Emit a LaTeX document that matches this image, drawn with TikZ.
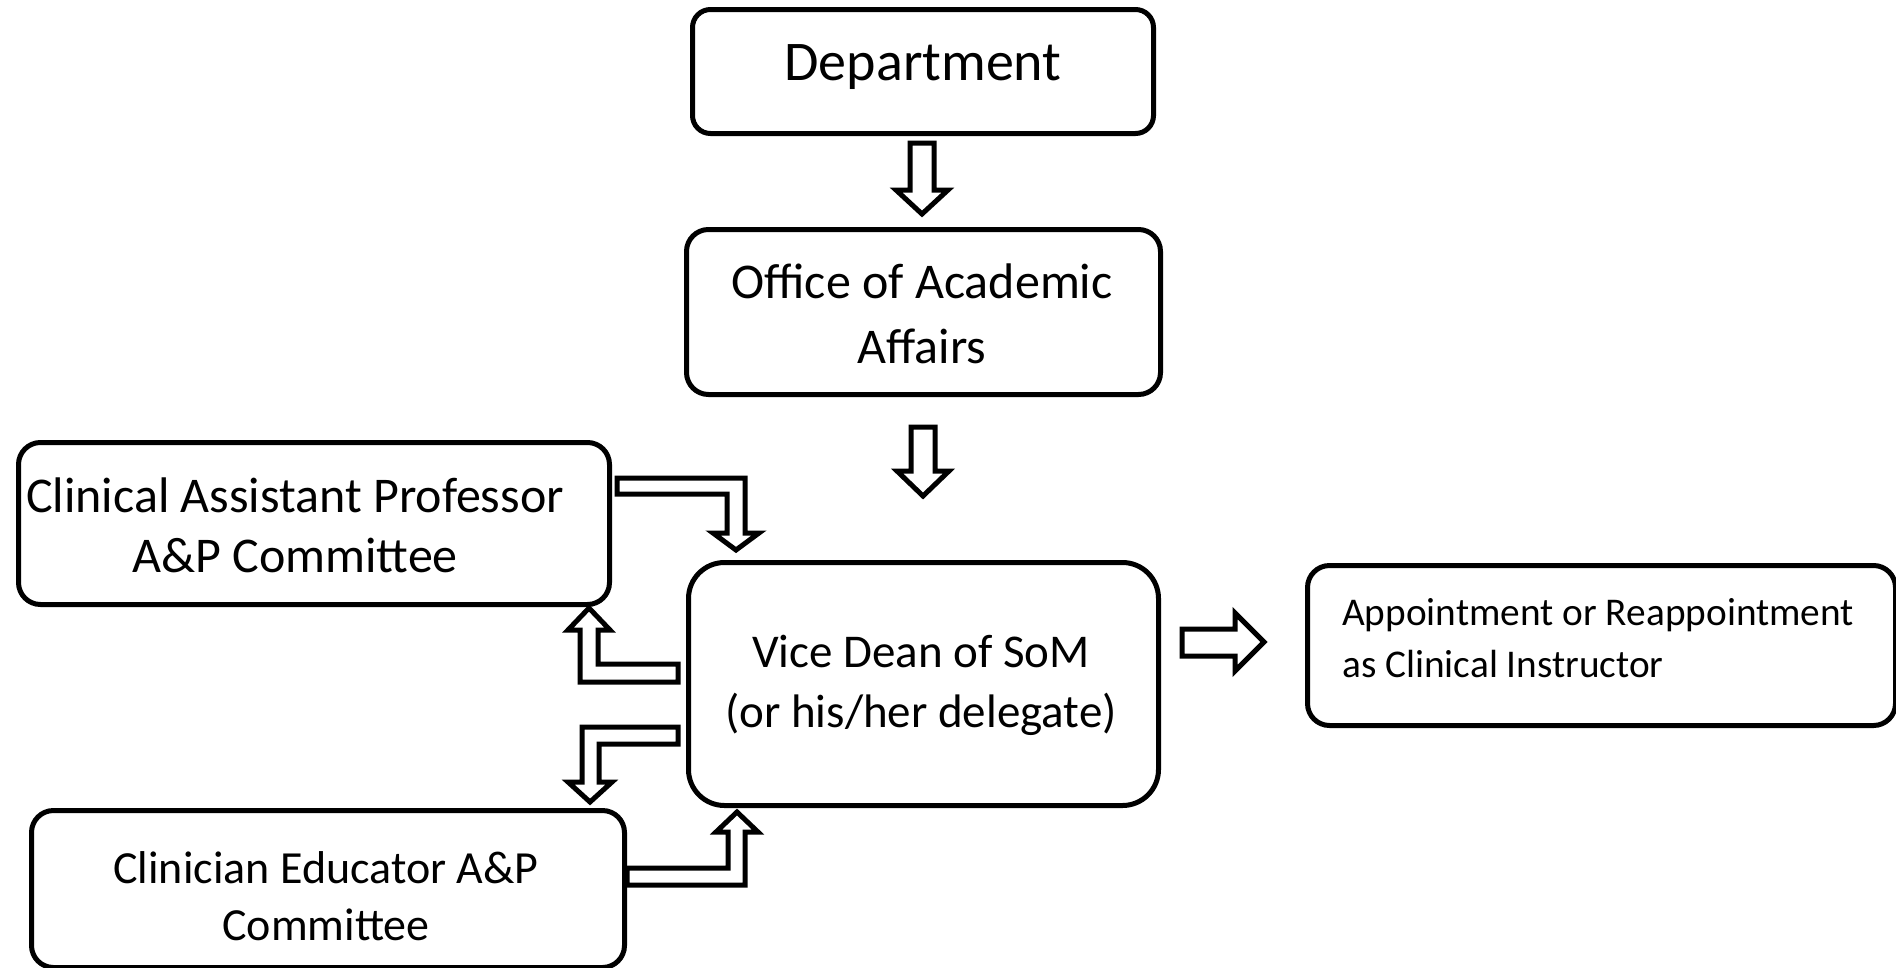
\documentclass[tikz,border=0pt]{standalone}
\usepackage{fontspec}
\setmainfont{Carlito}
\usetikzlibrary{calc}
\begin{document}
\begin{tikzpicture}[x=1pt,y=-1pt,
  box/.style={draw, line width=5pt, rounded corners=#1, inner sep=0pt, anchor=north west},
  box/.default=20pt,
  blk/.style={draw, line width=5pt, line join=miter, fill=white},
  txt/.style={align=center, inner sep=0pt}]
\useasboundingbox (0,0) rectangle (1896,967);
% boxes
\node[box=18pt, minimum width=461pt, minimum height=124pt] (dept) at (690,7) {};
\node[box=22pt, minimum width=474pt, minimum height=165pt] (oaa) at (684,227) {};
\node[box=22pt, minimum width=591pt, minimum height=162pt] (cap) at (16,440) {};
\node[box=36pt, minimum width=470pt, minimum height=243pt] (vd) at (686,560) {};
\node[box=22pt, minimum width=588pt, minimum height=160pt] (app) at (1305,563) {};
\node[box=22pt, minimum width=593pt, minimum height=157pt] (ce) at (29,808) {};
% texts
\node[txt, font=\fontsize{56}{66}\selectfont] (tdept) at (923,67) {Department};
\node[txt, font=\fontsize{50}{65}\selectfont] (toaa) at (922,314) {Office of Academic\\Affairs};
\node[txt, font=\fontsize{50}{60}\selectfont] (tcap) at (295,525) {Clinical Assistant Professor\\A\&P Committee};
\node[txt, font=\fontsize{47}{60}\selectfont] (tvd) at (921,685) {Vice Dean of SoM\\(or his/her delegate)};
\node[txt, font=\fontsize{39.3}{52}\selectfont, align=left, anchor=west] (tapp) at (1342,638) {Appointment or Reappointment\\as Clinical Instructor};
\node[txt, font=\fontsize{46}{57}\selectfont] (tce) at (326,896) {Clinician Educator A\&P\\Committee};
% straight block arrows
\draw[blk] (910,143) -- (934,143) -- (934,190) -- (948,190) -- (922,214) -- (896,190) -- (910,190) -- cycle;
\draw[blk] (911,427) -- (935,427) -- (935,471) -- (949,471) -- (923,496) -- (897,471) -- (911,471) -- cycle;
\draw[blk] (1182,629) -- (1235,629) -- (1235,613) -- (1264,642) -- (1235,671) -- (1235,656) -- (1182,656) -- cycle;
% bent block arrows
\draw[blk] (617,478) -- (745,478) -- (745,533) -- (759,533) -- (736,550) -- (713,533) -- (727,533) -- (727,494) -- (617,494) -- cycle;
\draw[blk] (589,608) -- (610,630) -- (598,630) -- (598,664) -- (678,664) -- (678,682) -- (580,682) -- (580,630) -- (568,630) -- cycle;
\draw[blk] (678,727) -- (582,727) -- (582,782) -- (568,782) -- (590,802) -- (612,782) -- (599,782) -- (599,744) -- (678,744) -- cycle;
\draw[blk] (737,812) -- (758,832) -- (745,832) -- (745,885) -- (627,885) -- (627,868) -- (728,868) -- (728,832) -- (716,832) -- cycle;
\end{tikzpicture}
\end{document}
